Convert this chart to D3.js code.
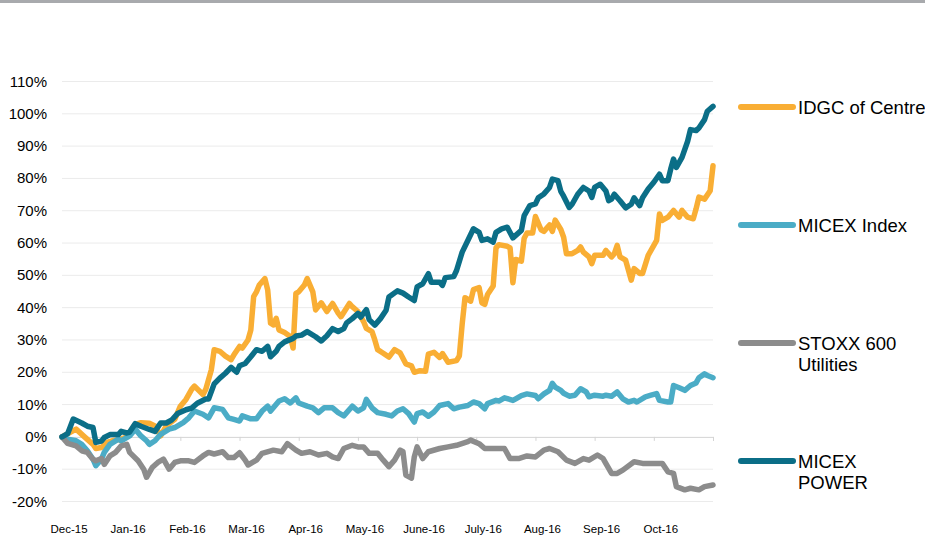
<!DOCTYPE html>
<html>
<head>
<meta charset="utf-8">
<script src="https://cdn.jsdelivr.net/npm/d3@7"></script>
<style>
  body { margin: 0; background: #fff; }
  svg { display: block; font-family: "Liberation Sans", Arial, sans-serif; }
</style>
</head>
<body>
<svg id="chart" width="925" height="535"></svg>
<script>
// month labels, one per ~21 trading days
var months = ["Dec-15", "Jan-16", "Feb-16", "Mar-16", "Apr-16", "May-16", "June-16", "July-16", "Aug-16", "Sep-16", "Oct-16"];
var yTicks = [-20, -10, 0, 10, 20, 30, 40, 50, 60, 70, 80, 90, 100, 110];

// trading day index + % change
var idgcDays = [0,5,8,11,12,14,16,18,21,23,26,28,31,33,35,37,40,42,44,46,47,50,51,53,54,56,58,60,61,63,64,66,67,68,69,70,72,73,74,75,76,77,79,81,82,83,84,86,87,89,90,92,94,96,98,99,102,103,105,107,108,110,111,112,114,116,118,120,122,124,125,127,129,130,132,134,135,137,140,141,142,143,145,146,148,149,150,151,153,154,155,158,159,160,161,163,164,165,167,168,170,171,173,174,175,177,178,179,181,183,184,185,187,188,189,192,193,195,196,197,198,200,201,202,203,205,206,208,209,211,212,213,215,217,219,220,222,224,225,226,228,230,231];
var idgcVals = [0,2.4,0,-2.3,-3.6,-3.3,-1.7,-1.2,-0.7,0,3.9,4.4,4.2,3.4,0.3,3.4,5.4,9.5,11.6,14.7,15.7,13.1,14.7,20.8,27,26.5,25,23.9,25.4,28,27.5,30,33.1,43.4,44.9,47,49,45.4,35.2,34.7,36.7,33.1,32.3,31.1,27.5,44.4,44.9,47,49,44.9,39.3,41.5,38.8,41.3,38.3,37.2,41.3,40.3,38.8,35.7,33.6,32.6,30,27,25.9,24.7,27,26,22.6,22,20,20.5,20.3,25.6,26.2,24.6,25.8,23.1,23.6,25.1,34.9,43.1,42,45.6,46.2,41.5,41,44.1,46.7,58.5,59.5,59,58.5,47.7,54.9,54.4,61.5,63.1,63.1,68.2,64.1,63.6,65.6,63.6,67.1,64.2,61.8,56.7,56.7,57.7,58.8,57.2,55.7,53.6,56.2,56.2,57.7,55.7,56.7,59.3,55.7,54.7,51.6,48.5,52.1,50.6,50.6,56.2,57.7,60.8,69,67,68,70.1,68,70.1,68,67.5,70.6,74.2,73.6,76.2,83.9];

var micexDays = [0,2,5,7,9,11,12,14,15,17,20,21,24,26,28,30,31,33,35,38,40,43,45,47,50,52,54,57,59,61,63,64,67,69,71,73,74,77,79,81,83,84,87,89,91,93,96,98,100,103,105,107,108,110,112,115,117,119,121,123,125,126,128,130,132,134,137,139,141,144,146,148,150,151,154,155,157,160,161,163,165,168,169,171,173,174,175,177,178,180,182,184,186,187,189,192,193,195,197,199,201,203,204,207,209,211,212,215,216,217,219,221,223,225,226,228,229,231];
var micexVals = [0,-0.7,-1.2,-2.3,-4.3,-6.9,-8.9,-6.9,-4.8,-2.3,-0.7,-1.2,0.3,2.4,0.3,-1.2,-2.3,-1.2,0.8,2.4,2.9,4.4,5.9,8,7,5.9,9,8.5,5.9,5.4,4.9,6.5,5.6,5.6,8,9.5,8,11.1,11.8,10.5,12.1,10.5,9.5,9,7.5,9,9,7.5,6.5,9.5,8,9,11.6,9,7.5,7,6.5,8,8.7,7.2,4.6,7.2,7.7,6.4,7.7,9.7,10.3,8.7,9.2,9.7,10.8,10.3,8.7,10.3,11.3,11.1,12.1,11.3,11.8,12.8,13.3,12.8,11.8,13.3,14.4,16.6,15.4,14.4,13.5,12.6,12.9,14.9,13.9,12.4,12.9,12.6,12.9,12.6,13.9,11.8,10.8,11.3,10.8,12.4,12.9,13.4,11.3,10.8,10.8,15.9,15.2,14.4,15.9,16.7,18.3,19.5,19,18.3];

var stoxxDays = [0,2,5,7,9,11,12,14,15,17,19,21,23,24,27,29,30,32,34,36,38,40,42,45,47,50,52,54,57,59,61,63,65,66,69,71,75,78,80,83,85,88,91,94,96,98,100,103,105,107,109,112,114,116,118,120,121,122,124,125,126,128,130,134,137,140,144,145,148,150,153,157,159,162,165,168,171,173,176,179,182,185,187,190,192,195,197,199,203,206,209,213,215,217,218,221,223,226,228,231];
var stoxxVals = [0,-2,-2.8,-4.3,-4.8,-6.9,-7.4,-6.7,-8.5,-5.9,-4.8,-2.8,-2.3,-4.8,-7.4,-10,-12.5,-9.5,-7.9,-6.9,-10,-7.9,-7.4,-7.4,-7.9,-5.9,-4.8,-5.3,-4.6,-6.4,-6.4,-4.9,-7.2,-8.7,-7.2,-5.1,-4.1,-4.6,-2.1,-4.1,-5.1,-4.6,-5.6,-5.1,-6.2,-6.7,-3.6,-2.6,-3.1,-3.1,-5.1,-5.1,-7.2,-9.2,-7.2,-4.1,-4.6,-11.8,-12.8,-6.2,-3.1,-6.7,-4.6,-3.6,-3.1,-2.6,-1.5,-1,-2.1,-3.6,-3.6,-3.6,-6.7,-6.7,-5.9,-6.2,-4.1,-3.6,-4.6,-7.2,-8.2,-6.7,-7.2,-5.6,-6.7,-11.3,-11.3,-10.3,-7.7,-8.2,-8.2,-8.2,-10.8,-11.3,-15.4,-16.4,-15.9,-16.4,-15.4,-14.9];

var powerDays = [0,2,4,7,9,11,12,14,15,17,20,21,23,24,26,28,31,33,35,37,39,41,44,46,48,51,52,54,56,58,60,62,63,65,67,69,71,73,74,76,77,79,82,83,85,87,90,92,94,96,98,100,101,103,105,106,108,109,111,113,115,116,119,121,123,125,126,128,130,131,134,135,136,139,140,142,144,146,148,149,151,153,154,156,158,160,163,164,166,168,169,171,173,174,176,177,178,180,181,183,185,187,188,189,191,193,194,195,196,198,200,202,203,205,206,208,210,212,213,215,216,217,218,220,222,223,225,226,228,229,231];
var powerVals = [0,1,5.5,4.3,3.3,2.9,-1.7,-1.3,-0.2,0.7,0.7,1.7,1.2,1.5,4.1,3.3,2.3,1.7,4.3,4.3,5.3,7.2,8.4,8.9,10.4,11.7,11.7,16.4,18.2,19.7,21.5,20,22,22.7,24.8,27,26.5,28,24.8,26.5,28,29.4,30.5,31.2,31.5,32.6,31,29.7,31.3,33.5,32.6,33.5,35.3,36.6,38.2,37.1,39.4,36.3,34.6,36.6,39.2,43.3,45.2,44.5,43.3,42.2,46.4,47.4,50.5,47.9,47.9,46.9,49.3,49.6,51.5,57.2,60.8,64.4,63.3,60.8,61.3,60.3,63.3,64.4,64.9,61.6,63.9,68.5,71.6,72.1,74,75.2,77.2,79.8,79.3,76,74.5,71,72,75.1,77.2,76.1,74.1,77.2,78.2,76.1,73.1,73.6,75.1,73.1,70.9,72,74,71.6,74,76.7,78.8,81.3,79.3,79.3,82.9,86,83.4,86.5,91.5,95.1,94.8,95.6,98.2,100.8,102.3];

var seriesNames = ["IDGC of Centre", "MICEX Index", "STOXX 600\nUtilities", "MICEX\nPOWER"];
var seriesColors = ["#f9ae34", "#4bacc6", "#8c8c8c", "#0b6e87"];

var series = [
  {name: seriesNames[0], color: seriesColors[0], days: idgcDays, vals: idgcVals},
  {name: seriesNames[1], color: seriesColors[1], days: micexDays, vals: micexVals},
  {name: seriesNames[2], color: seriesColors[2], days: stoxxDays, vals: stoxxVals},
  {name: seriesNames[3], color: seriesColors[3], days: powerDays, vals: powerVals}
];

var svg = d3.select('#chart');

// top rule
svg.append('rect').attr('x', 0).attr('y', 0).attr('width', 925).attr('height', 3).attr('fill', '#a8aaad');

var x = d3.scaleLinear().domain([0, 231]).range([62, 713]);
var y = d3.scaleLinear().domain([-20, 110]).range([501.5, 81.5]);

// gridlines
svg.append('g').selectAll('line')
  .data(yTicks.filter(d => d != 0))
  .join('line')
  .attr('x1', x(0)).attr('x2', x(231))
  .attr('y1', d => y(d)).attr('y2', d => y(d))
  .attr('stroke', '#ebebeb').attr('stroke-width', 1);

// y labels
svg.append('g').selectAll('text')
  .data(yTicks)
  .join('text')
  .attr('x', 47)
  .attr('y', d => y(d) + 5)
  .attr('text-anchor', 'end')
  .attr('font-size', '15px')
  .attr('fill', '#000')
  .text(d => d + '%');

// x axis on 0% line, ticks pointing down
var monthTicks = d3.range(0, 12).map(k => k * 21);
var xAxis = svg.append('g')
  .attr('transform', 'translate(0,' + y(0) + ')')
  .call(d3.axisBottom(x).tickValues(monthTicks).tickSize(4).tickFormat(''));
xAxis.select('.domain').attr('stroke', '#d4d4d4');
xAxis.selectAll('.tick line').attr('stroke', '#d4d4d4');

// month labels at the bottom
svg.append('g').selectAll('text')
  .data(months)
  .join('text')
  .attr('x', (d, i) => x(i * 21) + 7)
  .attr('y', 533)
  .attr('text-anchor', 'middle')
  .attr('font-size', '11.5px')
  .attr('fill', '#000')
  .text(d => d);

// lines
var line = d3.line()
  .x(d => x(d[0]))
  .y(d => y(d[1]));

svg.append('g').selectAll('path')
  .data(series)
  .join('path')
  .attr('d', s => line(s.days.map((d, i) => [d, s.vals[i]])))
  .attr('fill', 'none')
  .attr('stroke', s => s.color)
  .attr('stroke-width', 5.5)
  .attr('stroke-linejoin', 'round')
  .attr('stroke-linecap', 'round');

// legend
var legendY = [107, 225, 343, 461];
var lg = svg.append('g').selectAll('g')
  .data(series)
  .join('g')
  .attr('transform', (d, i) => 'translate(0,' + legendY[i] + ')');

lg.append('line')
  .attr('x1', 741).attr('x2', 793)
  .attr('y1', 0).attr('y2', 0)
  .attr('stroke', d => d.color)
  .attr('stroke-width', 6)
  .attr('stroke-linecap', 'round');

lg.append('text')
  .attr('x', 798)
  .attr('y', 6.5)
  .attr('font-size', '18.5px')
  .attr('fill', '#000')
  .selectAll('tspan')
  .data(d => d.name.split('\n'))
  .join('tspan')
  .attr('x', 798)
  .attr('dy', (d, i) => i == 0 ? 0 : 21)
  .text(d => d);
</script>
</body>
</html>
